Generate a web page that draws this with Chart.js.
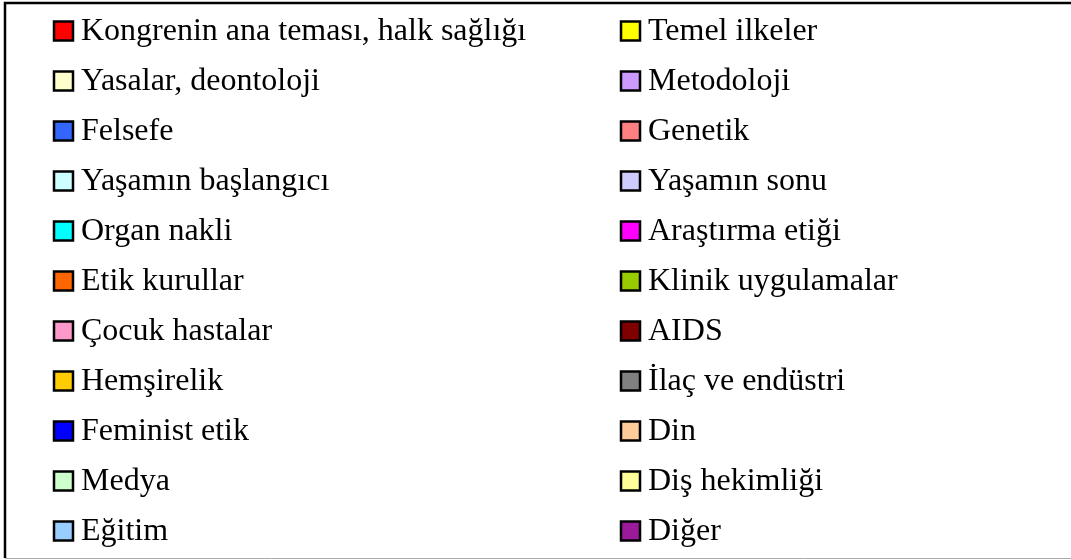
<!DOCTYPE html>
<html>
<head>
<meta charset="utf-8">
<script src="https://cdn.jsdelivr.net/npm/chart.js@4"></script>
<style>
    html, body { margin: 0; padding: 0; background: #fff; }
    #wrap { width: 1071px; height: 560px; }
</style>
</head>
<body>
<div id="wrap"><canvas id="chart"></canvas></div>
<script>
// legend entries, read left to right, top to bottom
const categories = [
    'Kongrenin ana teması, halk sağlığı', 'Temel ilkeler',
    'Yasalar, deontoloji', 'Metodoloji',
    'Felsefe', 'Genetik',
    'Yaşamın başlangıcı', 'Yaşamın sonu',
    'Organ nakli', 'Araştırma etiği',
    'Etik kurullar', 'Klinik uygulamalar',
    'Çocuk hastalar', 'AIDS',
    'Hemşirelik', 'İlaç ve endüstri',
    'Feminist etik', 'Din',
    'Medya', 'Diş hekimliği',
    'Eğitim', 'Diğer'
];

const colors = [
    '#ff0000', '#ffff00',
    '#ffffcc', '#cc99ff',
    '#3366ff', '#ff8080',
    '#ccffff', '#ccccff',
    '#00ffff', '#ff00ff',
    '#ff6600', '#99cc00',
    '#ff99cc', '#800000',
    '#ffcc00', '#808080',
    '#0000ff', '#ffcc99',
    '#ccffcc', '#ffff99',
    '#99ccff', '#9a1a9a'
];

// the picture only shows the legend, slice sizes are not visible
const shares = [1, 1, 1, 1, 1, 1, 1, 1, 1, 1, 1, 1, 1, 1, 1, 1, 1, 1, 1, 1, 1, 1];

const gridLegend = {
    id: 'gridLegend',
    afterDraw(chart) {
        const ctx = chart.ctx;
        const items = chart.options.plugins.legend.labels.generateLabels(chart);
        const colX = [54, 621];
        const top = 31, rowGap = 50, box = 19;

        ctx.save();
        // frame of the legend box
        ctx.strokeStyle = '#000';
        ctx.lineWidth = 2.5;
        ctx.beginPath();
        ctx.moveTo(1071, 3);
        ctx.lineTo(5, 3);
        ctx.lineTo(5, 558);
        ctx.stroke();
        ctx.strokeStyle = '#aaa';
        ctx.lineWidth = 1;
        ctx.beginPath();
        ctx.moveTo(5, 558.5);
        ctx.lineTo(1071, 558.5);
        ctx.stroke();

        ctx.font = '32px "Liberation Serif", "Times New Roman", serif';
        ctx.textBaseline = 'middle';
        ctx.textAlign = 'left';
        items.forEach((item, i) => {
            const x = colX[i % 2];
            const y = top + rowGap * Math.floor(i / 2);
            ctx.fillStyle = item.fillStyle;
            ctx.fillRect(x, y - box / 2, box, box);
            ctx.strokeStyle = '#000';
            ctx.lineWidth = 2.5;
            ctx.strokeRect(x, y - box / 2, box, box);
            ctx.fillStyle = '#000';
            ctx.fillText(item.text, x + 27, y + 1);
        });
        ctx.restore();
    }
};

new Chart(document.getElementById('chart'), {
    type: 'pie',
    data: {
        labels: categories,
        datasets: [{
            data: shares,
            backgroundColor: colors,
            borderColor: '#000',
            radius: 0
        }]
    },
    options: {
        responsive: true,
        maintainAspectRatio: false,
        animation: false,
        plugins: {
            legend: { display: false },
            tooltip: { enabled: false }
        }
    },
    plugins: [gridLegend]
});
</script>
</body>
</html>
